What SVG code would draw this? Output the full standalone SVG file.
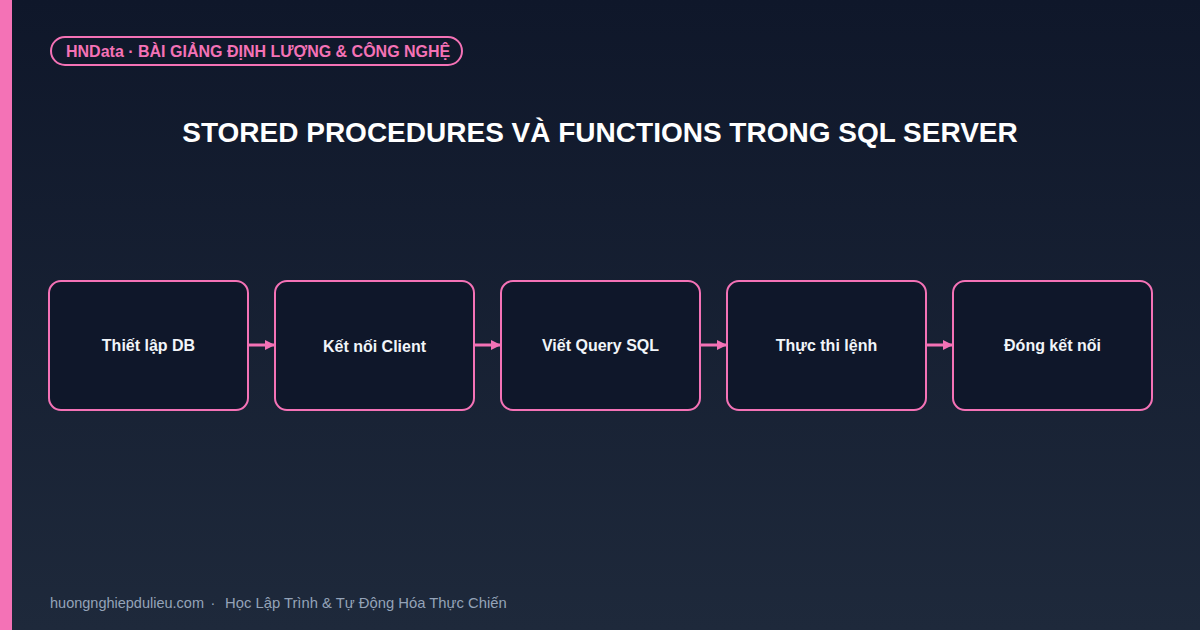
<svg xmlns="http://www.w3.org/2000/svg" width="1200" height="630" viewBox="0 0 1200 630">
<defs>
<linearGradient id="bg" x1="0" y1="0" x2="0" y2="1">
<stop offset="0" stop-color="#0f172a"/>
<stop offset="1" stop-color="#1e293b"/>
</linearGradient>
<marker id="arr" markerWidth="10" markerHeight="10" refX="9" refY="5" orient="auto" markerUnits="userSpaceOnUse">
<path d="M0,0 L10,5 L0,10 Z" fill="#f472b6"/>
</marker>
<style>
.box{fill:#0f172a;stroke:#f472b6;stroke-width:2}
.lbl{font-family:"Liberation Sans",Arial,sans-serif;font-weight:bold;font-size:16px;fill:#f1f5f9;text-anchor:middle;dominant-baseline:central}
.conn{stroke:#f472b6;stroke-width:3;fill:none}
.foot{font-family:"Liberation Sans",Arial,sans-serif;fill:#94a3b8}
</style>
</defs>
<rect width="1200" height="630" fill="url(#bg)"/>
<rect x="0" y="0" width="12" height="630" fill="#f472b6"/>
<g id="badge">
<rect x="51" y="37" width="411" height="28" rx="14" fill="none" stroke="#f472b6" stroke-width="2"/>
<text x="66" y="57" font-family="'Liberation Sans',Arial,sans-serif" font-weight="bold" font-size="16" fill="#f472b6">HNData · BÀI GIẢNG ĐỊNH LƯỢNG &amp; CÔNG NGHỆ</text>
</g>
<text x="600" y="142" text-anchor="middle" font-family="'Liberation Sans',Arial,sans-serif" font-weight="bold" font-size="28" fill="#ffffff">STORED PROCEDURES VÀ FUNCTIONS TRONG SQL SERVER</text>
<g id="connectors">
<line class="conn" x1="249" y1="345" x2="274" y2="345" marker-end="url(#arr)"/>
<line class="conn" x1="475" y1="345" x2="500" y2="345" marker-end="url(#arr)"/>
<line class="conn" x1="701" y1="345" x2="726" y2="345" marker-end="url(#arr)"/>
<line class="conn" x1="927" y1="345" x2="952" y2="345" marker-end="url(#arr)"/>
</g>
<g id="n1"><rect class="box" x="49" y="281" width="199" height="129" rx="12"/><text class="lbl" x="148.5" y="345">Thiết lập DB</text></g>
<g id="n2"><rect class="box" x="275" y="281" width="199" height="129" rx="12"/><text class="lbl" x="374.5" y="346">Kết nối Client</text></g>
<g id="n3"><rect class="box" x="501" y="281" width="199" height="129" rx="12"/><text class="lbl" x="600.5" y="345">Viết Query SQL</text></g>
<g id="n4"><rect class="box" x="727" y="281" width="199" height="129" rx="12"/><text class="lbl" x="826.5" y="345">Thực thi lệnh</text></g>
<g id="n5"><rect class="box" x="953" y="281" width="199" height="129" rx="12"/><text class="lbl" x="1052.5" y="345">Đóng kết nối</text></g>
<g id="footer">
<text class="foot" x="50" y="608" font-size="14.5">huongnghiepdulieu.com</text>
<text class="foot" x="213" y="608" font-size="14.5" text-anchor="middle">·</text>
<text class="foot" x="225" y="608" font-size="14.8">Học Lập Trình &amp; Tự Động Hóa Thực Chiến</text>
</g>
</svg>
